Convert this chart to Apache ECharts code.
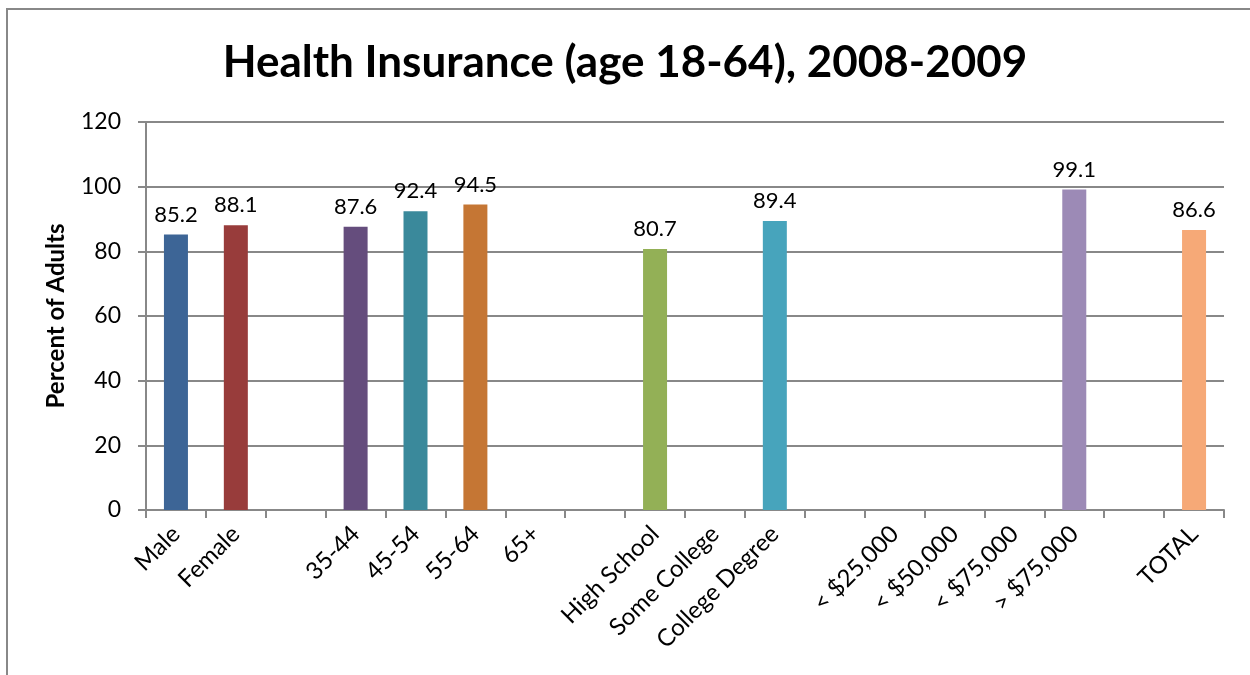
<!DOCTYPE html>
<html>
<head>
<meta charset="utf-8">
<script src="https://cdn.jsdelivr.net/npm/echarts@6/dist/echarts.min.js"></script>
<style>
html,body{margin:0;padding:0;background:#fff;}
#chart{width:1250px;height:675px;}
</style>
</head>
<body>
<div id="chart"></div>
<script>
var categories = ['Male','Female','','35-44','45-54','55-64','65+','','High School','Some College','College Degree','','< $25,000','< $50,000','< $75,000','> $75,000','','TOTAL'];
var values = [85.2, 88.1, null, 87.6, 92.4, 94.5, null, null, 80.7, null, 89.4, null, null, null, null, 99.1, null, 86.6];
var barColors = ['#3D6596','#983C3B','#ffffff','#654D7D','#3A899B','#C57634','#ffffff','#ffffff','#93B056','#ffffff','#47A4BC','#ffffff','#ffffff','#ffffff','#ffffff','#9C8AB6','#ffffff','#F6A977'];
var yTicks = [0, 20, 40, 60, 80, 100, 120];

var FONT = 'Lato, "Open Sans", sans-serif';
var chart = echarts.init(document.getElementById('chart'));
var option = {
  backgroundColor: '#fff',
  animation: false,
  title: {
    text: 'Health Insurance (age 18-64), 2008-2009',
    left: 'center',
    top: 36,
    textStyle: {fontFamily: FONT, fontSize: 44, fontWeight: 'bold', color: '#000'}
  },
  graphic: [{
    type: 'rect',
    shape: {x: 7, y: 9, width: 1300, height: 700},
    style: {fill: 'none', stroke: '#888', lineWidth: 2},
    silent: true
  }],
  grid: {left: 146, right: 26, top: 122, bottom: 165},
  xAxis: {
    type: 'category',
    data: categories,
    axisLine: {lineStyle: {color: '#888', width: 2}},
    axisTick: {show: true, interval: 0, length: 8, lineStyle: {color: '#888', width: 2}},
    axisLabel: {interval: 0, rotate: 45, margin: 20, fontFamily: FONT, fontSize: 24, color: '#000'}
  },
  yAxis: {
    type: 'value',
    min: yTicks[0],
    max: yTicks[yTicks.length - 1],
    interval: 20,
    name: 'Percent of Adults',
    nameLocation: 'middle',
    nameGap: 78,
    nameTextStyle: {fontFamily: FONT, fontSize: 24, fontWeight: 'bold', color: '#000'},
    axisLine: {show: true, lineStyle: {color: '#888', width: 2}},
    axisTick: {show: true, length: 8, lineStyle: {color: '#888', width: 2}},
    splitLine: {lineStyle: {color: '#888', width: 2}},
    axisLabel: {margin: 25, fontFamily: FONT, fontSize: 23, color: '#000'}
  },
  series: [{
    type: 'bar',
    barWidth: 24,
    data: values.map(function (v, i) {
      return {value: v, itemStyle: {color: barColors[i]}};
    }),
    label: {
      show: true,
      position: 'top',
      distance: 9,
      fontFamily: FONT,
      fontSize: 22,
      color: '#000',
      formatter: function (p) { return p.value == null ? '' : p.value.toFixed(1); }
    }
  }]
};
chart.setOption(option);
</script>
</body>
</html>
